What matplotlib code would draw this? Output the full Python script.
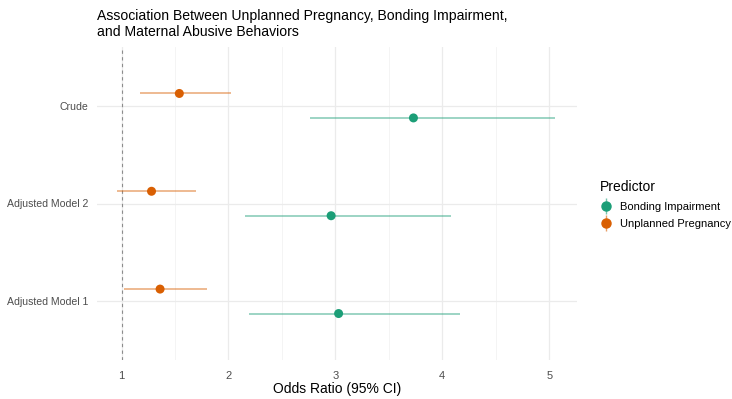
import matplotlib.pyplot as plt
from matplotlib.lines import Line2D
from matplotlib.legend_handler import HandlerTuple

# data
models = ["Adjusted Model 1", "Adjusted Model 2", "Crude"]
predictors = ["Bonding Impairment", "Unplanned Pregnancy"]
bonding_or = [3.03, 2.96, 3.73]
bonding_lo = [2.19, 2.15, 2.76]
bonding_hi = [4.17, 4.08, 5.05]
unplanned_or = [1.36, 1.28, 1.54]
unplanned_lo = [1.02, 0.96, 1.17]
unplanned_hi = [1.80, 1.70, 2.02]

colors = {"Bonding Impairment": "#1B9E77", "Unplanned Pregnancy": "#D95F02"}
dodge = {"Bonding Impairment": -0.125, "Unplanned Pregnancy": 0.125}
series = {
    "Bonding Impairment": (bonding_or, bonding_lo, bonding_hi),
    "Unplanned Pregnancy": (unplanned_or, unplanned_lo, unplanned_hi),
}

plt.rcParams["font.family"] = ["Liberation Sans", "DejaVu Sans"]
fig = plt.figure(figsize=(7.32, 3.99), dpi=100)
ax = fig.add_axes([97 / 732, 1 - 360 / 399, 480 / 732, 313 / 399])

ypos = list(range(1, len(models) + 1))
for name in predictors:
    est, lo, hi = series[name]
    c = colors[name]
    yy = [y + dodge[name] for y in ypos]
    ax.hlines(yy, lo, hi, color=c, alpha=0.55, lw=1.1, zorder=3)
    ax.scatter(est, yy, s=42, color=c, zorder=4, edgecolors="none")

ax.axvline(1, color="#8c8c8c", ls=(0, (3, 3)), lw=0.8, zorder=2)

ax.set_xlim(0.77, 5.26)
ax.set_ylim(0.4, 3.6)
ax.set_yticks(ypos)
ax.set_yticklabels(models)
ax.set_xticks([1, 2, 3, 4, 5])
ax.set_xticks([1.5, 2.5, 3.5, 4.5], minor=True)
ax.grid(True, which="major", color="#ebebeb", lw=0.9)
ax.grid(True, which="minor", axis="x", color="#f3f3f3", lw=0.6)
ax.set_axisbelow(True)
for s in ax.spines.values():
    s.set_visible(False)
ax.tick_params(which="both", length=0, colors="#4d4d4d")
ax.tick_params(axis="x", pad=8, labelsize=8)
ax.tick_params(axis="y", pad=6, labelsize=7.6)
ax.set_xlabel("Odds Ratio (95% CI)", fontsize=10, color="black", labelpad=0.5)

fig.text(97 / 732, 1 - 9 / 399,
         "Association Between Unplanned Pregnancy, Bonding Impairment,\nand Maternal Abusive Behaviors",
         ha="left", va="top", fontsize=10.1, linespacing=1.2)

handles = []
for name in predictors:
    c = colors[name]
    bar = Line2D([], [], marker="|", markersize=11, color=c, alpha=0.6, ls="none")
    dot = Line2D([], [], marker="o", markersize=6.5, color=c, ls="none")
    handles.append((bar, dot))
leg = fig.legend(handles, predictors, handler_map={tuple: HandlerTuple(ndivide=1)},
                 loc="upper left", bbox_to_anchor=(590 / 732, 1 - 170 / 399),
                 frameon=False, title="Predictor", fontsize=8, title_fontsize=10,
                 handlelength=1.0, handletextpad=0.8, labelspacing=0.6,
                 borderaxespad=0.5)
leg._legend_box.align = "left"
leg._legend_box.sep = 6

fig.savefig("out.png", dpi=100)
